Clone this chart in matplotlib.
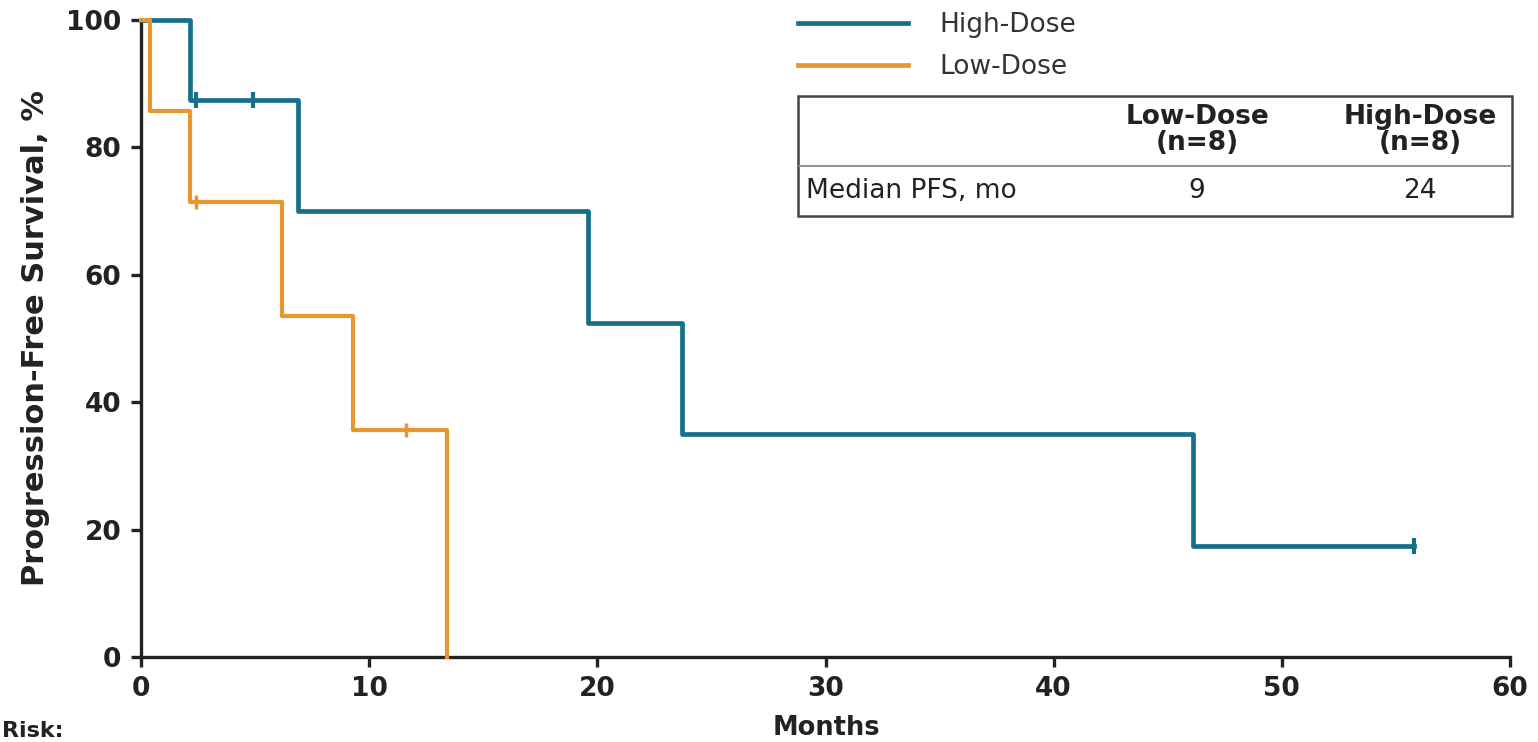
import matplotlib
matplotlib.use("Agg")
import matplotlib.pyplot as plt
from matplotlib.lines import Line2D
from matplotlib.patches import Rectangle

plt.rcParams['font.family'] = ['DejaVu Sans']

# ---- data ----
high_t = [0, 2.15, 6.9, 19.6, 23.7, 46.1, 55.8]
high_s = [100, 87.5, 70.0, 52.5, 35.0, 17.5, 17.5]
high_cens_t = [2.4, 4.9, 55.8]
high_cens_s = [87.5, 87.5, 17.5]

low_t = [0, 0.4, 2.15, 6.2, 9.3, 13.4]
low_s = [100, 85.7, 71.4, 53.6, 35.7, 0.0]
low_cens_t = [2.4, 11.6]
low_cens_s = [71.4, 35.7]

x_ticks = [0, 10, 20, 30, 40, 50, 60]
y_ticks = [0, 20, 40, 60, 80, 100]

table_cols = ["Low-Dose\n(n=8)", "High-Dose\n(n=8)"]
table_row_label = "Median PFS, mo"
table_vals = ["9", "24"]

TEAL = "#17708a"
ORANGE = "#e8962e"
INK = "#222222"

W, H = 1538, 742
fig = plt.figure(figsize=(W / 100, H / 100), dpi=100)
ax = fig.add_axes([141 / W, 1 - 657 / H, (1510 - 141) / W, (657 - 20) / H])

ax.step(high_t, high_s, where='post', color=TEAL, lw=3.4, clip_on=False, zorder=3)
ax.step(low_t, low_s, where='post', color=ORANGE, lw=3.0, clip_on=False, zorder=3)
ax.plot(high_cens_t, high_cens_s, ls='none', marker='|', ms=11, mew=3, color=TEAL, clip_on=False, zorder=4)
ax.plot(low_cens_t, low_cens_s, ls='none', marker='|', ms=10, mew=2.5, color=ORANGE, clip_on=False, zorder=4)

ax.set_xlim(0, 60)
ax.set_ylim(0, 100)
ax.set_xticks(x_ticks)
ax.set_yticks(y_ticks)
for s in ['top', 'right']:
    ax.spines[s].set_visible(False)
for s in ['left', 'bottom']:
    ax.spines[s].set_linewidth(2.4)
    ax.spines[s].set_color(INK)
ax.tick_params(axis='both', direction='out', length=7, width=2.4, color=INK,
               labelsize=19, pad=7)
for lab in ax.get_xticklabels() + ax.get_yticklabels():
    lab.set_fontweight('bold')
    lab.set_color(INK)

ax.set_ylabel("Progression-Free Survival, %", fontsize=22, fontweight='bold', color=INK)
ax.yaxis.set_label_coords((36 - 141) / (1510 - 141), 0.5)
ax.yaxis.label.set_va('center')
fig.text(826 / W, 1 - 728 / H, "Months", ha='center', va='center', fontsize=18.5,
         fontweight='bold', color=INK)
fig.text(2 / W, 1 / H, "Risk:", ha='left', va='bottom', fontsize=16,
         fontweight='bold', color=INK)

# legend
handles = [Line2D([], [], color=TEAL, lw=3.4), Line2D([], [], color=ORANGE, lw=3.4)]
fig.legend(handles, ["High-Dose", "Low-Dose"], loc='upper left',
           bbox_to_anchor=(798 / W, 1 - 12 / H), frameon=False, fontsize=19,
           borderpad=0, borderaxespad=0,
           handlelength=4.15, handletextpad=1.2, labelspacing=0.62, labelcolor='#333333')

# table
tx0, tx1, ty0, ty1 = 798, 1512, 96, 216
tab = fig.add_axes([tx0 / W, 1 - ty1 / H, (tx1 - tx0) / W, (ty1 - ty0) / H])
tab.set_xlim(tx0, tx1)
tab.set_ylim(ty1, ty0)
tab.axis('off')
tab.add_patch(Rectangle((tx0, ty0), tx1 - tx0, ty1 - ty0, fill=False, lw=1.8,
                        edgecolor='#444444', clip_on=False))
tab.plot([tx0, tx1], [166, 166], color='#888888', lw=1.3)
col_x = [1197, 1420]
for cx, lbl, val in zip(col_x, table_cols, table_vals):
    tab.text(cx, 130, lbl, ha='center', va='center', fontsize=19, fontweight='bold',
             color=INK, linespacing=1.05)
    tab.text(cx, 191, val, ha='center', va='center', fontsize=19, color=INK)
tab.text(806, 191, table_row_label, ha='left', va='center', fontsize=19, color=INK)

fig.savefig("out.png", dpi=100)
